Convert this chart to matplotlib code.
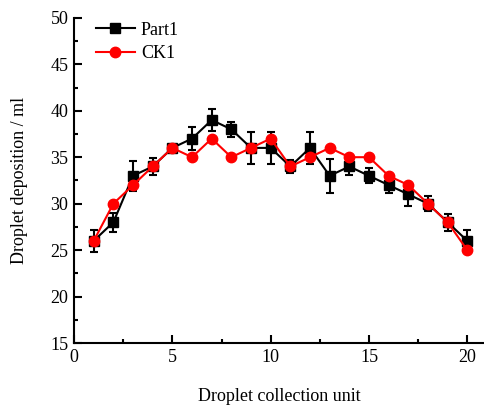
import matplotlib
matplotlib.use("Agg")
import matplotlib.pyplot as plt
from matplotlib.lines import Line2D
from matplotlib.ticker import MultipleLocator

plt.rcParams['font.family'] = ['Liberation Serif', 'DejaVu Serif']

# droplet collection units
unit = list(range(1, 21))
part1 = [26, 28, 33, 34, 36, 37, 39, 38, 36, 36, 34, 36, 33, 34, 33, 32, 31, 30, 28, 26]
part1_err = [1.2, 1.0, 1.6, 0.9, 0.3, 1.2, 1.2, 0.8, 1.7, 1.7, 0.7, 1.7, 1.8, 0.9, 0.8, 0.8, 1.2, 0.8, 0.9, 1.2]
ck1 = [26, 30, 32, 34, 36, 35, 37, 35, 36, 37, 34, 35, 36, 35, 35, 33, 32, 30, 28, 25]

fig = plt.figure(figsize=(4.84, 4.05), dpi=100)
ax = fig.add_axes([0.153, 0.153, 0.847, 0.803])

ax.errorbar(unit, part1, yerr=part1_err, color="black", marker="s", markersize=6.5,
            linewidth=1.5, capsize=3, elinewidth=1.5, capthick=1.5, zorder=2)
ax.plot(unit, ck1, color="red", marker="o", markersize=7.5, linewidth=1.5, zorder=3)

ax.set_xlim(0, 20.85)
ax.set_ylim(15, 50)
ax.xaxis.set_major_locator(MultipleLocator(5))
ax.xaxis.set_minor_locator(MultipleLocator(2.5))
ax.yaxis.set_major_locator(MultipleLocator(5))
ax.yaxis.set_minor_locator(MultipleLocator(2.5))
ax.tick_params(which="both", direction="in", width=1.5, labelsize=13, pad=4)
ax.tick_params(which="major", length=6)
ax.tick_params(which="minor", length=3)
ax.spines["top"].set_visible(False)
ax.spines["right"].set_visible(False)
ax.spines["left"].set_linewidth(1.5)
ax.spines["bottom"].set_linewidth(1.5)

ax.set_xlabel("Droplet collection unit", fontsize=13, labelpad=16)
ax.set_ylabel("Droplet deposition / ml", fontsize=13, labelpad=16)

#legend handles without the error caps
handles = [Line2D([], [], color="black", marker="s", markersize=6.5, linewidth=1.5),
           Line2D([], [], color="red", marker="o", markersize=7.5, linewidth=1.5)]
ax.legend(handles, ["Part1", "CK1"], loc="upper left", frameon=False, fontsize=13,
          handlelength=2.2, handletextpad=0.3, labelspacing=0.35, borderaxespad=0.0,
          bbox_to_anchor=(0.035, 1.01))

fig.savefig("out.png", dpi=100)
